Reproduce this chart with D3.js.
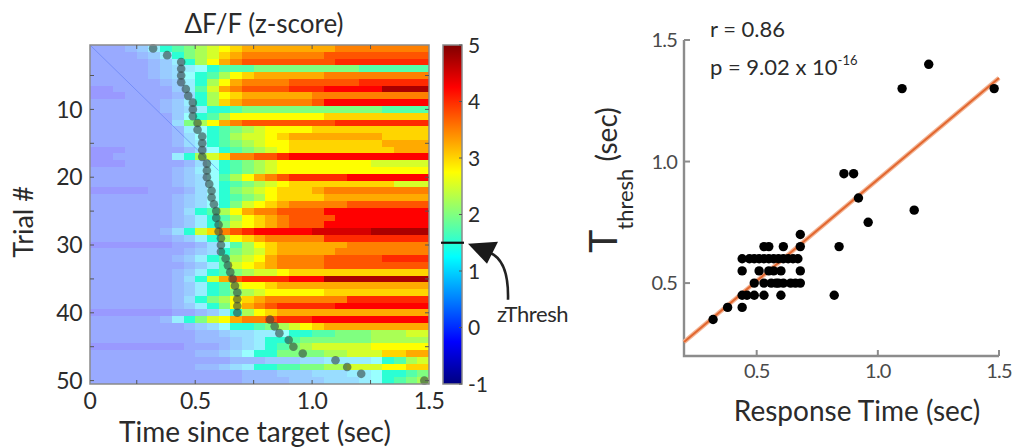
<!DOCTYPE html>
<html>
<head>
<meta charset="utf-8">
<script src="https://cdn.jsdelivr.net/npm/d3@7"></script>
<style>
  body { margin: 0; background: #fff; }
  svg { display: block; }
  text { font-family: Lato, "Open Sans", "DejaVu Sans", sans-serif; }
</style>
</head>
<body>
<svg id="fig" width="1016" height="447"></svg>
<script>
// ---- data -------------------------------------------------------------
// z-score per trial (rows, sorted by response time) and 50 ms time bin.
// Each character is one bin: 'a' = -1, each following letter +0.25 (… 'y' = 5).
const levelCodes = "abcdefghijklmnopqrstuvwxy";
const zRows = [
  "eeefgiklmnopqrrrrrrrrssssssss",
  "eeeefgikmnoqrsssssssttttttttt",
  "eeeeefgiknprsttttttttuuuuuuuu",
  "eeeeefghijklllmmmmmmmmmllllll",
  "eeeeefghjklnpqrrrrrrsssssssss",
  "eeeeeefgiknprssssttttttuuuuuu",
  "ddeeeeegilorsttttuuuvvvvvxxxx",
  "dddeeeefhknpqrrrrrrssssssssss",
  "eeeeeefgiknqrsssssstvvvvvvvvv",
  "eeeeeefghikklmmmmmmmmmmmmllll",
  "eeeeeeegjklnppppppppqqqqqqqqq",
  "eeeeeeehmnprsttttttttuuuuuuuu",
  "eeeeeeefijklmnoppppqqqqqqqqqq",
  "eeeeeeefhjklnoopqrrrrrrrrqqqq",
  "eeeeeeefhiklmnoppqqqqqqqqrrrr",
  "dddeeeeefhjklmnopqqqqqqqqqrrr",
  "ddeeeeeiknoqssttuvvvvvvvvvvvv",
  "dddeeeeefhjklmnoppppppppooooo",
  "eeeeeeefgijklmnoppppppppppppp",
  "eeeeeeefghjlnprstuuuuuvvvvvvv",
  "eeeeeeefghjklmnopqqqqqqqqqooo",
  "dddddeeefhjkmnopqqqrsssssssss",
  "eeeeeeefghjklmnpqqqqrrrrrrrrr",
  "eeeeeeefghjkmopqrsssssttttttt",
  "eeeeeeefhklnprssttttvvvvvvvvv",
  "eeeeeeefgiklnpqrsttttvvvvvvvv",
  "eeeeeeefgikmopqrstttvvvvvvvvv",
  "eeeeeefhkoqstuvvvvvwwwwwxxxxx",
  "eeeeeeefgiknpqrsssssuuuuuuuuu",
  "dddddddeefhjlnpqrrrrrrsssssss",
  "eeeeeeeefghkmnoqrrrrrssssssss",
  "eeeeeeefgiklnoprsssstttttuuuu",
  "eeeeeeeefgilopqrssssttttttttt",
  "eeeeeeefgiklmnoopqqqqqqqqqqqq",
  "eeeeeeefhkortuuuuvvvxxxxxxxxx",
  "eeeeeeefgikloppqrrrrrrrrrrrrr",
  "eeeeeeefgiklmnopppppqqqqqqqqq",
  "eeeeeeefhkmnpqrsssssssuuuuuuu",
  "eeeeeeefgikmprstuuuuuvvvvvvvv",
  "dddddddeefgiknpqrrrrrrrrrrrrr",
  "eeeeeefikmoprsstuuuvvvvvvvvvv",
  "eeeeeeeefghjkklmnopqrrrrrrrrr",
  "eeeeeeeeeffghhiijkkllmmmnnnoo",
  "eeeeeeeeefffghikklmmmmmmnnnnn",
  "ddddddddeeefghiklmnoooooppppp",
  "eeeeeeeeeffghjkkmmmmnnoooqqrr",
  "eeeeeeeeeeeefffggghhiiiijklno",
  "eeeeeeeeeffghikkllmmnnoooppqq",
  "eeeeeeeeeeeeefffggghhhiijkklm",
  "eeeeeeeeeeeeeffffggghhhijklmn"
];
const binStart = 0.05;   // s, left edge of the first bin
const binWidth = 0.05;   // s
const binCount = 29;
const zThresh = 1.5;
const zRange = [-1, 5];

// response time and threshold-crossing time for each trial (same order as zRows)
const responseTime = [0.32, 0.38, 0.44, 0.44, 0.44, 0.44, 0.46, 0.47, 0.49, 0.49,
                      0.49, 0.51, 0.51, 0.53, 0.53, 0.53, 0.53, 0.55, 0.55, 0.55,
                      0.56, 0.57, 0.57, 0.58, 0.59, 0.59, 0.60, 0.60, 0.61, 0.61,
                      0.61, 0.63, 0.64, 0.65, 0.66, 0.67, 0.68, 0.68, 0.68, 0.68,
                      0.82, 0.84, 0.86, 0.90, 0.92, 0.96, 1.10, 1.15, 1.21, 1.48];
const tThresh      = [0.35, 0.40, 0.40, 0.45, 0.55, 0.60, 0.45, 0.60, 0.45, 0.50,
                      0.60, 0.55, 0.60, 0.45, 0.50, 0.60, 0.65, 0.55, 0.60, 0.65,
                      0.50, 0.55, 0.60, 0.50, 0.50, 0.60, 0.45, 0.55, 0.50, 0.60,
                      0.65, 0.60, 0.50, 0.60, 0.50, 0.60, 0.50, 0.55, 0.65, 0.70,
                      0.45, 0.65, 0.95, 0.95, 0.85, 0.75, 1.30, 0.80, 1.40, 1.30];
const fitSlope = 0.835;
const fitIntercept = 0.091;
const rText = "r = 0.86";
const pMantissa = "p = 9.02 x 10";
const pExponent = "-16";

// tick values / labels
const heatTimeTicks = [0.25, 0.5, 0.75, 1.0, 1.25];
const heatTimeLabelValues = [binStart, 0.5, 1.0, 1.5];
const heatTimeLabels = ["0", "0.5", "1.0", "1.5"];
const trialMinorTicks = [5, 10, 15, 20, 25, 30, 35, 40, 45, 50];
const trialLabelTicks = [10, 20, 30, 40, 50];
const colorbarTicks = [-1, 0, 1, 2, 3, 4, 5];
const scatterTicks = [0.5, 1.0, 1.5];
const scatterTickLabels = ["0.5", "1.0", "1.5"];
const scatterDomain = [0.2, 1.5];
// faint diagonal trace across the top-left of the heatmap (time s, trial)
const traceStart = [0.05, 0.5];
const traceEnd = [0.6, 19];

// ---- helpers ------------------------------------------------------------
function jet(v) {
  const c = t => Math.max(0, Math.min(1, t));
  return [c(1.5 - Math.abs(4 * v - 3)), c(1.5 - Math.abs(4 * v - 2)), c(1.5 - Math.abs(4 * v - 1))];
}
const zNorm = d3.scaleLinear().domain(zRange).range([0, 1]).clamp(true);
function cellColor(z) {
  const [r, g, b] = jet(zNorm(z));
  const a = z >= zThresh ? 1 : 0.4;   // sub-threshold bins are faded
  const mix = ch => Math.round(255 * (1 - a) + 255 * ch * a);
  return `rgb(${mix(r)},${mix(g)},${mix(b)})`;
}
const decodeRow = s => {
  const vals = Array.from(s).map(ch => -1 + 0.25 * levelCodes.indexOf(ch));
  while (vals.length < binCount) vals.push(vals[vals.length - 1]);
  return vals.slice(0, binCount);
};

const svg = d3.select("#fig");
const ink = "#2b2b2b";

// ---- heatmap ------------------------------------------------------------
const xH = d3.scaleLinear().domain([binStart, binStart + binCount * binWidth]).range([90, 429]);
const trials = d3.range(1, zRows.length + 1);
const yH = d3.scaleBand().domain(trials).range([45, 384]);
const bw = yH.bandwidth();
const rowCenter = t => yH(t) + bw / 2;
const yTrial = d3.scaleLinear().domain([0.5, trials.length + 0.5]).range(yH.range());

const heat = svg.append("g");
zRows.forEach((s, i) => {
  const vals = decodeRow(s);
  heat.selectAll(null).data(vals).enter().append("rect")
    .attr("x", (d, j) => xH(binStart + j * binWidth))
    .attr("width", (d, j) => xH(binStart + (j + 1) * binWidth) - xH(binStart + j * binWidth) + 0.3)
    .attr("y", yH(trials[i]))
    .attr("height", bw + 0.3)
    .attr("fill", d => cellColor(d))
    .attr("shape-rendering", "crispEdges");
});

svg.append("line")
  .attr("x1", xH(traceStart[0])).attr("y1", yTrial(traceStart[1]))
  .attr("x2", xH(traceEnd[0])).attr("y2", yTrial(traceEnd[1]))
  .attr("stroke", "#4f72f0").attr("stroke-width", 0.9).attr("stroke-opacity", 0.55);

// response-time markers
svg.append("g").selectAll("circle").data(responseTime).enter().append("circle")
  .attr("cx", d => xH(d))
  .attr("cy", (d, i) => rowCenter(trials[i]))
  .attr("r", 4.3)
  .attr("fill", "#34433f")
  .attr("fill-opacity", 0.6);

// frame and ticks
const [hx0, hx1] = xH.range();
const [hy0, hy1] = yH.range();
svg.append("rect").attr("x", hx0).attr("y", hy0).attr("width", hx1 - hx0).attr("height", hy1 - hy0)
  .attr("fill", "none").attr("stroke", "#8a8a8a").attr("stroke-width", 1.5);
const tickG = svg.append("g").attr("stroke", "#555").attr("stroke-width", 1);
trialMinorTicks.forEach(t => {
  tickG.append("line").attr("x1", hx0).attr("x2", hx0 + 4).attr("y1", rowCenter(t)).attr("y2", rowCenter(t));
  tickG.append("line").attr("x1", hx1 - 4).attr("x2", hx1).attr("y1", rowCenter(t)).attr("y2", rowCenter(t));
});
heatTimeTicks.forEach(t => {
  tickG.append("line").attr("x1", xH(t)).attr("x2", xH(t)).attr("y1", hy0).attr("y2", hy0 + 4);
  tickG.append("line").attr("x1", xH(t)).attr("x2", xH(t)).attr("y1", hy1 - 4).attr("y2", hy1);
});

svg.append("g").selectAll("text").data(trialLabelTicks).enter().append("text")
  .attr("x", 82).attr("y", d => rowCenter(d)).attr("dy", "0.36em")
  .attr("text-anchor", "end").attr("font-size", 23).attr("fill", ink).attr("letter-spacing", -0.5)
  .text(d => d);
svg.append("g").selectAll("text").data(heatTimeLabelValues).enter().append("text")
  .attr("x", d => xH(d)).attr("y", 409)
  .attr("text-anchor", "middle").attr("font-size", 23).attr("fill", ink).attr("letter-spacing", -0.5)
  .text((d, i) => heatTimeLabels[i]);

svg.append("text").attr("x", 264).attr("y", 33).attr("text-anchor", "middle")
  .attr("font-size", 26).attr("fill", ink).text("ΔF/F (z-score)");
svg.append("text").attr("transform", "translate(33,222) rotate(-90)").attr("text-anchor", "middle")
  .attr("font-size", 27).attr("fill", ink).text("Trial #");
svg.append("text").attr("x", 255).attr("y", 442).attr("text-anchor", "middle")
  .attr("font-size", 28).attr("fill", ink).text("Time since target (sec)");

// ---- colorbar -----------------------------------------------------------
const cz = d3.scaleLinear().domain(zRange).range([384, 45]);
const cbX = 443, cbW = 19;
const grad = svg.append("defs").append("linearGradient").attr("id", "jetGrad")
  .attr("x1", 0).attr("y1", 1).attr("x2", 0).attr("y2", 0);
d3.range(0, 1.0001, 1 / 32).forEach(v => {
  const [r, g, b] = jet(v);
  grad.append("stop").attr("offset", v).attr("stop-color", `rgb(${Math.round(r * 255)},${Math.round(g * 255)},${Math.round(b * 255)})`);
});
svg.append("rect").attr("x", cbX).attr("y", cz(zRange[1])).attr("width", cbW)
  .attr("height", cz(zRange[0]) - cz(zRange[1])).attr("fill", "url(#jetGrad)")
  .attr("stroke", "#8a8a8a").attr("stroke-width", 1.5);
colorbarTicks.forEach(t => {
  svg.append("line").attr("x1", cbX + cbW - 3).attr("x2", cbX + cbW).attr("y1", cz(t)).attr("y2", cz(t))
    .attr("stroke", "#555").attr("stroke-width", 1);
});
svg.append("g").selectAll("text").data(colorbarTicks).enter().append("text")
  .attr("x", cbX + cbW + 6).attr("y", d => cz(d)).attr("dy", "0.36em")
  .attr("font-size", 21).attr("fill", ink).text(d => d);

// threshold marker + annotation
const yT = cz(zThresh);
svg.append("line").attr("x1", cbX - 2).attr("x2", cbX + cbW + 2).attr("y1", yT).attr("y2", yT)
  .attr("stroke", "#111").attr("stroke-width", 2.2);
const tipX = cbX + cbW + 6;
const arrowPath = d3.path();
arrowPath.moveTo(tipX + 22, yT + 10);
arrowPath.quadraticCurveTo(tipX + 41, yT + 18, tipX + 40, yT + 57);
svg.append("path").attr("d", arrowPath.toString()).attr("fill", "none")
  .attr("stroke", "#222").attr("stroke-width", 2.6);
svg.append("path")
  .attr("d", `M${tipX},${yT + 1} L${tipX + 30},${yT - 1} L${tipX + 19},${yT + 21} Z`)
  .attr("fill", "#1a1a1a");
svg.append("text").attr("x", 497).attr("y", yT + 79).attr("font-size", 22).attr("fill", ink)
  .attr("letter-spacing", -0.4).text("zThresh");

// ---- scatter ------------------------------------------------------------
const xS = d3.scaleLinear().domain(scatterDomain).range([684, 999]);
const yS = d3.scaleLinear().domain(scatterDomain).range([356, 40]);
const axisColor = "#8c8c8c";
svg.append("path")
  .attr("d", `M${xS(scatterDomain[0])},${yS(scatterDomain[1])} V${yS(scatterDomain[0])} H${xS(scatterDomain[1])}`)
  .attr("fill", "none").attr("stroke", axisColor).attr("stroke-width", 2.4);
scatterTicks.forEach(t => {
  svg.append("line").attr("x1", xS(scatterDomain[0])).attr("x2", xS(scatterDomain[0]) + 6)
    .attr("y1", yS(t)).attr("y2", yS(t)).attr("stroke", axisColor).attr("stroke-width", 2);
  svg.append("line").attr("y1", yS(scatterDomain[0])).attr("y2", yS(scatterDomain[0]) - 6)
    .attr("x1", xS(t)).attr("x2", xS(t)).attr("stroke", axisColor).attr("stroke-width", 2);
});
svg.append("g").selectAll("text").data(scatterTicks).enter().append("text")
  .attr("x", 677).attr("y", d => yS(d)).attr("dy", "0.36em").attr("text-anchor", "end")
  .attr("font-size", 20).attr("fill", "#4a4a4a").attr("letter-spacing", -0.8)
  .text((d, i) => scatterTickLabels[i]);
svg.append("g").selectAll("text").data(scatterTicks).enter().append("text")
  .attr("x", d => xS(d)).attr("y", 378).attr("text-anchor", "middle")
  .attr("font-size", 20).attr("fill", "#4a4a4a").attr("letter-spacing", -0.8)
  .text((d, i) => scatterTickLabels[i]);

// regression line
const fitLine = d3.line().x(d => xS(d)).y(d => yS(fitIntercept + fitSlope * d));
svg.append("path").attr("d", fitLine(scatterDomain)).attr("stroke", "#f3b596").attr("stroke-width", 4.5).attr("fill", "none");
svg.append("path").attr("d", fitLine(scatterDomain)).attr("stroke", "#e2672f").attr("stroke-width", 2).attr("fill", "none");

svg.append("g").selectAll("circle").data(responseTime).enter().append("circle")
  .attr("cx", d => xS(d)).attr("cy", (d, i) => yS(tThresh[i])).attr("r", 4.7).attr("fill", "#000");

svg.append("text").attr("x", 710).attr("y", 37).attr("font-size", 22).attr("fill", ink).text(rText);
const pT = svg.append("text").attr("x", 710).attr("y", 75).attr("font-size", 22).attr("fill", ink);
pT.append("tspan").text(pMantissa);
pT.append("tspan").attr("font-size", 13).attr("dy", -10).text(pExponent);

const yl = svg.append("text").attr("transform", "translate(617,180) rotate(-90)")
  .attr("text-anchor", "middle").attr("fill", ink);
yl.append("tspan").attr("font-size", 39).text("T");
yl.append("tspan").attr("font-size", 22).attr("dy", 16).text("thresh");
yl.append("tspan").attr("font-size", 28).attr("dy", -16).text(" (sec)");

svg.append("text").attr("x", 857).attr("y", 421).attr("text-anchor", "middle")
  .attr("font-size", 28).attr("fill", ink).text("Response Time (sec)");
</script>
</body>
</html>
